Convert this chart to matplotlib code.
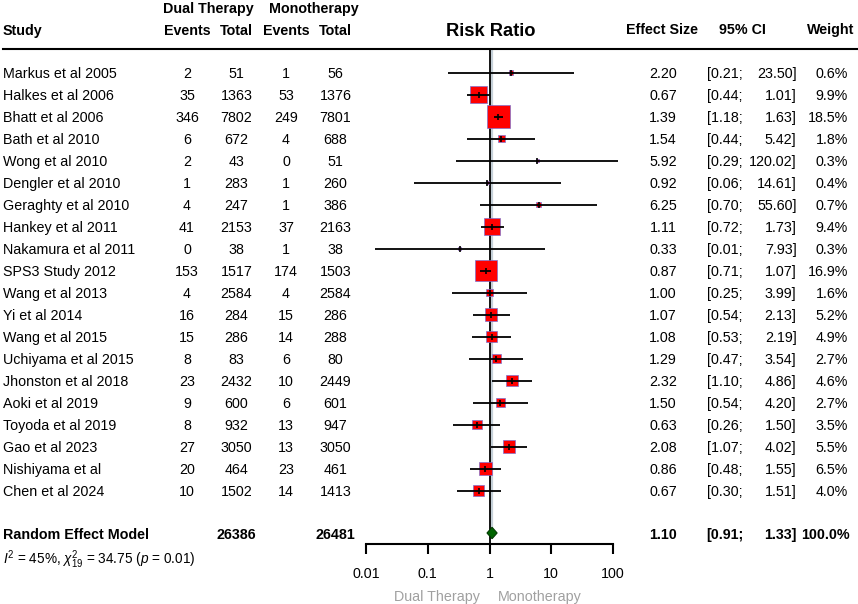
import matplotlib
matplotlib.use("Agg")
import matplotlib.pyplot as plt
from matplotlib.transforms import blended_transform_factory
from matplotlib.lines import Line2D
from matplotlib.patches import Polygon
import numpy as np

plt.rcParams['font.family'] = ['Liberation Sans', 'DejaVu Sans']
plt.rcParams['mathtext.fontset'] = 'custom'
plt.rcParams['mathtext.rm'] = 'Liberation Sans'
plt.rcParams['mathtext.it'] = 'Liberation Sans:italic'
plt.rcParams['mathtext.bf'] = 'Liberation Sans:bold'

# ---------------- data ----------------
studies = ["Markus et al 2005", "Halkes et al 2006", "Bhatt et al 2006", "Bath et al 2010",
           "Wong et al 2010", "Dengler et al 2010", "Geraghty et al 2010", "Hankey et al 2011",
           "Nakamura et al 2011", "SPS3 Study 2012", "Wang et al 2013", "Yi et al 2014",
           "Wang et al 2015", "Uchiyama et al 2015", "Jhonston et al 2018", "Aoki et al 2019",
           "Toyoda et al 2019", "Gao et al 2023", "Nishiyama et al", "Chen et al 2024"]
dual_events = [2, 35, 346, 6, 2, 1, 4, 41, 0, 153, 4, 16, 15, 8, 23, 9, 8, 27, 20, 10]
dual_total = [51, 1363, 7802, 672, 43, 283, 247, 2153, 38, 1517, 2584, 284, 286, 83, 2432,
              600, 932, 3050, 464, 1502]
mono_events = [1, 53, 249, 4, 0, 1, 1, 37, 1, 174, 4, 15, 14, 6, 10, 6, 13, 13, 23, 14]
mono_total = [56, 1376, 7801, 688, 51, 260, 386, 2163, 38, 1503, 2584, 286, 288, 80, 2449,
              601, 947, 3050, 461, 1413]
rr = [2.20, 0.67, 1.39, 1.54, 5.92, 0.92, 6.25, 1.11, 0.33, 0.87, 1.00, 1.07, 1.08, 1.29,
      2.32, 1.50, 0.63, 2.08, 0.86, 0.67]
ci_lo = [0.21, 0.44, 1.18, 0.44, 0.29, 0.06, 0.70, 0.72, 0.014, 0.71, 0.25, 0.54, 0.53, 0.47,
         1.10, 0.54, 0.26, 1.07, 0.48, 0.30]
ci_hi = [23.50, 1.01, 1.63, 5.42, 120.02, 14.61, 55.60, 1.73, 7.93, 1.07, 3.99, 2.13, 2.19,
         3.54, 4.86, 4.20, 1.50, 4.02, 1.55, 1.51]
weights = [0.6, 9.9, 18.5, 1.8, 0.3, 0.4, 0.7, 9.4, 0.3, 16.9, 1.6, 5.2, 4.9, 2.7, 4.6, 2.7,
           3.5, 5.5, 6.5, 4.0]

pooled_label = "Random Effect Model"
pooled_dual_total = 26386
pooled_mono_total = 26481
pooled_rr = 1.10
pooled_lo = 0.91
pooled_hi = 1.33
pooled_weight = 100.0
het_text = r"$I^2$ = 45%, $\chi^2_{19}$ = 34.75 ($p$ = 0.01)"

tick_values = [0.01, 0.1, 1, 10, 100]
tick_labels = ["0.01", "0.1", "1", "10", "100"]

# ---------------- layout ----------------
W, H = 858, 604
fig = plt.figure(figsize=(W / 100, H / 100), dpi=100)
fig.patch.set_facecolor("white")

top_px, bot_px = 49.0, 543.5
ax = fig.add_axes([366 / W, (H - bot_px) / H, 247 / W, (bot_px - top_px) / H])
ax.set_xscale("log")
ax.set_xlim(0.01, 100)
row0_px, row_step = 72.5, 22.0
ax.set_ylim((bot_px - row0_px) / row_step, (top_px - row0_px) / row_step)
ax.set_facecolor("none")
for s in ["top", "left", "right"]:
    ax.spines[s].set_visible(False)
ax.spines["bottom"].set_linewidth(1.5)
ax.set_yticks([])
ax.xaxis.set_major_locator(matplotlib.ticker.FixedLocator(tick_values))
ax.xaxis.set_minor_locator(matplotlib.ticker.NullLocator())
ax.set_xticklabels(tick_labels, fontsize=10.3)
ax.tick_params(axis="x", direction="out", length=7, width=1.5, pad=10)

n = len(studies)
rows = np.arange(n)
pooled_row = (533 - row0_px) / row_step

def px_row(px):
    return (px - row0_px) / row_step

# reference lines
ax.axvline(1, color="black", lw=1.3, zorder=1)
ax.plot([pooled_rr, pooled_rr], [px_row(top_px), pooled_row], color="#c5d0d8", lw=1.6,
        zorder=0.9, solid_capstyle="butt")

# boxes
side_px = 5.3 * np.sqrt(np.array(weights))
side_pt = side_px * 72 / 100
ax.scatter(rr, rows, s=side_pt ** 2, marker="s", facecolor="#ff0000",
           edgecolor="#7070d8", linewidths=0.45, zorder=2)
# CI lines
ax.hlines(rows, ci_lo, ci_hi, color="black", lw=1.3, zorder=3, clip_on=False)
ax.plot(rr, rows, linestyle="none", marker="|", markersize=4, markeredgewidth=1.2,
        color="black", zorder=4)

# diamond
hh = 0.26
diamond = Polygon([[pooled_lo, pooled_row], [pooled_rr, pooled_row - hh],
                   [pooled_hi, pooled_row], [pooled_rr, pooled_row + hh]],
                  closed=True, facecolor="#006400", edgecolor="#003a00", lw=0.8, zorder=3)
ax.add_patch(diamond)

# ---------------- table text ----------------
tr = blended_transform_factory(fig.transFigure, ax.transData)
fs = 10.3
x_study = 3 / W
x_de, x_dt, x_me, x_mt = 187 / W, 236.5 / W, 286 / W, 335.5 / W
x_eff = 677 / W
x_cil = 706.5 / W
x_cih = 796.5 / W
x_w = 848 / W

hdr = px_row(29.3)
grp = px_row(7.5)
kw = dict(transform=tr, fontsize=fs, va="center_baseline")
kb = dict(kw, fontweight="bold")

ax.text(x_study, hdr, "Study", ha="left", **kb)
ax.text(208 / W, grp, "Dual Therapy", ha="center", **kb)
ax.text(313.5 / W, grp, "Monotherapy", ha="center", **kb)
for xx, lab in [(x_de, "Events"), (x_dt, "Total"), (x_me, "Events"), (x_mt, "Total")]:
    ax.text(xx, hdr, lab, ha="center", **kb)
ax.text(490.5 / W, hdr, "Risk Ratio", ha="center", transform=tr, fontsize=13.2,
        fontweight="bold", va="center_baseline")
ax.text(661.5 / W, px_row(28.5), "Effect Size", ha="center", **kb)
ax.text(742 / W, px_row(28.5), "95% CI", ha="center", **kb)
ax.text(854 / W, px_row(28.5), "Weight", ha="right", **kb)

for i in range(n):
    ax.text(x_study, i, studies[i], ha="left", **kw)
    ax.text(x_de, i, str(dual_events[i]), ha="center", **kw)
    ax.text(x_dt, i, str(dual_total[i]), ha="center", **kw)
    ax.text(x_me, i, str(mono_events[i]), ha="center", **kw)
    ax.text(x_mt, i, str(mono_total[i]), ha="center", **kw)
    ax.text(x_eff, i, f"{rr[i]:.2f}", ha="right", **kw)
    ax.text(x_cil, i, f"[{ci_lo[i]:.2f};", ha="left", **kw)
    ax.text(x_cih, i, f"{ci_hi[i]:.2f}]", ha="right", **kw)
    ax.text(x_w, i, f"{weights[i]:.1f}%", ha="right", **kw)

ax.text(x_study, pooled_row, pooled_label, ha="left", **kb)
ax.text(x_dt, pooled_row, str(pooled_dual_total), ha="center", **kb)
ax.text(x_mt, pooled_row, str(pooled_mono_total), ha="center", **kb)
ax.text(x_eff, pooled_row, f"{pooled_rr:.2f}", ha="right", **kb)
ax.text(x_cil, pooled_row, f"[{pooled_lo:.2f};", ha="left", **kb)
ax.text(x_cih, pooled_row, f"{pooled_hi:.2f}]", ha="right", **kb)
ax.text(850 / W, pooled_row, f"{pooled_weight:.1f}%", ha="right", **kb)

ax.text(x_study, px_row(556), het_text, ha="left", transform=tr, fontsize=9.8,
        va="center_baseline")

ax.text(480 / W, px_row(595), "Dual Therapy", ha="right", color="#a0a0a0", **kw)
ax.text(498 / W, px_row(595), "Monotherapy", ha="left", color="#a0a0a0", **kw)

# header rule
fig.add_artist(Line2D([0.003, 1.0], [(H - top_px) / H] * 2, transform=fig.transFigure,
                      color="black", lw=1.5))

fig.savefig("out.png", dpi=100, facecolor="white")
